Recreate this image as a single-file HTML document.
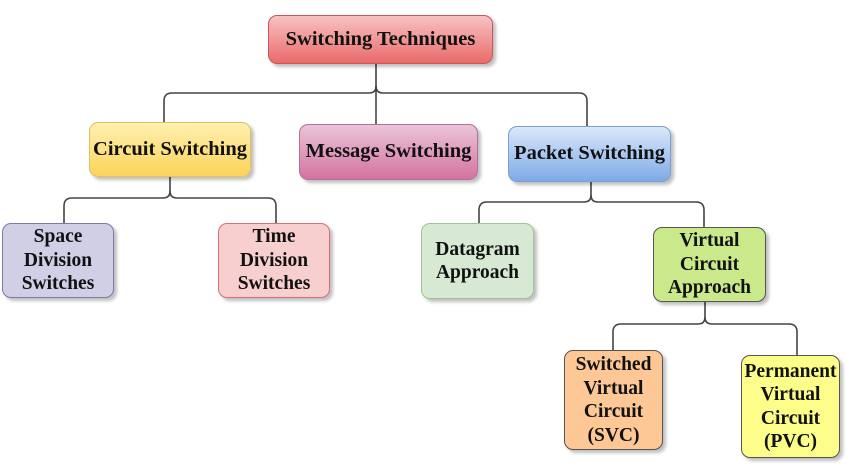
<!DOCTYPE html>
<html><head><style>
body{margin:0;width:847px;height:470px;background:#fff;position:relative;overflow:hidden;font-family:"Liberation Serif",serif;font-weight:bold;color:#111}
.b{position:absolute;box-sizing:border-box;border-radius:9px;display:flex;align-items:center;justify-content:center;text-align:center;box-shadow:3px 3px 3px rgba(0,0,0,0.25);line-height:23.5px;white-space:nowrap}
.s17{font-size:20.5px}.s16{font-size:19.5px}
svg{position:absolute;left:0;top:0}
</style></head><body>
<svg width="847" height="470"><g fill="none" stroke="#444" stroke-width="1.6">
<path d="M376 64 V86 Q376 93 369 93 H172 Q164 93 164 101 V122"/>
<path d="M376 86 Q376 93 383 93 H579 Q587 93 587 101 V126"/>
<path d="M376 86 V124"/>
<path d="M170 177 V191 Q170 198 163 198 H72 Q64 198 64 206 V223"/>
<path d="M170 191 Q170 198 177 198 H268 Q276 198 276 206 V223"/>
<path d="M591 182 V195 Q591 202 584 202 H487 Q479 202 479 210 V223"/>
<path d="M591 195 Q591 202 598 202 H696 Q704 202 704 210 V227"/>
<path d="M705 302 V317 Q705 324 698 324 H621 Q613 324 613 332 V350"/>
<path d="M705 317 Q705 324 712 324 H789 Q797 324 797 332 V355"/>
</g></svg>
<div class="b s17" style="left:268px;top:15px;width:225px;height:49px;background:linear-gradient(#f7c2c2,#ea6b6b);border:1px solid #c55">Switching Techniques</div>
<div class="b s17" style="left:89px;top:122px;width:162px;height:55px;background:linear-gradient(#fff0b0,#fbd45a);border:1px solid #e0c060">Circuit Switching</div>
<div class="b s17" style="left:299px;top:124px;width:179px;height:56px;background:linear-gradient(#eac5d8,#d4739f);border:1px solid #b5709a">Message Switching</div>
<div class="b s17" style="left:508px;top:126px;width:163px;height:56px;background:linear-gradient(#dbe8fa,#7eaae8);border:1px solid #7a9fd0">Packet Switching</div>
<div class="b s16" style="left:2px;top:223px;width:112px;height:75px;background:#d0cfe6;border:1.5px solid #7d7aa8">Space<br>Division<br>Switches</div>
<div class="b s16" style="left:218px;top:223px;width:112px;height:75px;background:#f7cfcf;border:1.5px solid #d87070">Time<br>Division<br>Switches</div>
<div class="b s16" style="left:421px;top:223px;width:113px;height:76px;background:#d7e9d3;border:1.5px solid #9dc493">Datagram<br>Approach</div>
<div class="b s16" style="left:653px;top:227px;width:113px;height:75px;background:#c9e98a;border:1.5px solid #555">Virtual<br>Circuit<br>Approach</div>
<div class="b s16" style="left:564px;top:350px;width:99px;height:100px;background:#fdc796;border:1.5px solid #555">Switched<br>Virtual<br>Circuit<br>(SVC)</div>
<div class="b s16" style="left:741px;top:355px;width:99px;height:103px;background:#fdfd8a;border:1.5px solid #555">Permanent<br>Virtual<br>Circuit<br>(PVC)</div>
</body></html>
